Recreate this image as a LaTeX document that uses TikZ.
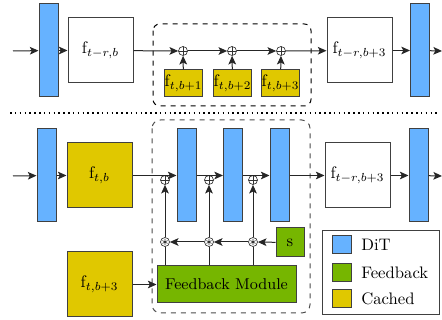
\documentclass[tikz,border=0pt]{standalone}
\usetikzlibrary{arrows.meta,positioning,calc}

\definecolor{ditBlue}{RGB}{102,178,255}
\definecolor{fbGreen}{RGB}{118,182,0}
\definecolor{cacheYellow}{RGB}{224,200,0}

\begin{document}
\begin{tikzpicture}[x=0.6pt, y=-0.6pt,
		ditBlock/.style={
				draw=black!75, fill=ditBlue, line width=0.6pt,
				minimum width=11.4pt, minimum height=55.8pt,
				inner sep=0pt
			},
		plainBlock/.style={
				draw=black!75, fill=white, line width=0.6pt,
				minimum width=39pt, minimum height=39pt,
				inner sep=0pt
			},
		cachedBlock/.style={
				draw=black!75, fill=cacheYellow, line width=0.6pt,
				minimum width=39pt, minimum height=39pt,
				inner sep=0pt
			},
		smallCached/.style={
				draw=black!75, fill=cacheYellow, line width=0.6pt,
				minimum width=22.2pt, minimum height=16.2pt,
				inner sep=0pt
			},
		feedbackBlock/.style={
				draw=black!75, fill=fbGreen, line width=0.6pt,
				inner sep=0pt
			},
		swatch/.style={
				draw=black!75, line width=0.6pt, minimum width=11.4pt, minimum height=10.8pt,
				inner sep=0pt
			},
		sumNode/.style={
				circle, draw=black!80, fill=white, minimum size=5.4pt, inner sep=0pt,
				line width=0.4pt,
				path picture={
						\draw[black!80, line width=0.35pt]
						(path picture bounding box.north) -- (path picture bounding box.south)
						(path picture bounding box.west) -- (path picture bounding box.east);
					}
			},
		mulNode/.style={
				circle, draw=black!80, fill=white, minimum size=5.4pt, inner sep=0pt,
				line width=0.4pt,
				path picture={
						\draw[black!80, line width=0.35pt]
						(path picture bounding box.center) ++(90:1.8pt) -- ++(270:3.6pt)
						(path picture bounding box.center) ++(30:1.8pt) -- ++(210:3.6pt)
						(path picture bounding box.center) ++(150:1.8pt) -- ++(330:3.6pt);
					}
			},
		flowarrow/.style={draw=black!85, line width=0.6pt, -{Stealth[length=5.2pt, width=4.6pt, inset=1.2pt]}},
		flowline/.style={draw=black!85, line width=0.6pt}
	]
	\useasboundingbox (0,0) rectangle (442,320);

	% Top row: cached features reused
	\draw[dashed, rounded corners=4pt, line width=0.6pt] (153,24) rectangle (311,106);
	\coordinate (topIn) at (13,51);
	\coordinate (topOut) at (442,51);
	\node[ditBlock] (T1) at (48.5,50.5) {};
	\node[plainBlock] (TA) at (100.5,50.5) {$\mathrm{f}_{t-r,b}$};
	\node[sumNode] (TP1) at (183,51) {};
	\node[sumNode] (TP2) at (232,51) {};
	\node[sumNode] (TP3) at (281,51) {};
	\node[smallCached] (TC1) at (183.5,83.5) {$\mathrm{f}_{t,b+1}$};
	\node[smallCached] (TC2) at (232.5,83.5) {$\mathrm{f}_{t,b+2}$};
	\node[smallCached] (TC3) at (280.5,83.5) {$\mathrm{f}_{t,b+3}$};
	\node[plainBlock] (TB) at (359.5,50.5) {$\mathrm{f}_{t-r,b+3}$};
	\node[ditBlock] (T2) at (420,50.5) {};

	\draw[flowarrow] (topIn) -- (T1);
	\draw[flowarrow] (T1) -- (TA);
	\draw[flowarrow] (TA) -- (TP1);
	\draw[flowarrow] (TP1) -- (TP2);
	\draw[flowarrow] (TP2) -- (TP3);
	\draw[flowarrow] (TP3) -- (TB);
	\draw[flowarrow] (TB) -- (T2);
	\draw[flowarrow] (T2) -- (topOut);
	\foreach \i in {1,2,3} {
			\draw[flowarrow] (TC\i) -- (TP\i);
		}

	% separator
	\draw[dotted, line width=0.9pt] (10,113) -- (440,113);

	% Bottom row: feedback correction
	\draw[dashed, black!70, rounded corners=5pt, line width=0.6pt] (152,120) rectangle (310,313);
	\coordinate (botIn) at (13,176);
	\coordinate (botOut) at (442,176);
	\node[ditBlock] (B1) at (46.5,175.5) {};
	\node[cachedBlock] (BA) at (99.5,175.5) {$\mathrm{f}_{t,b}$};
	\node[ditBlock] (B2) at (186.5,175.5) {};
	\node[ditBlock] (B3) at (233,175.5) {};
	\node[ditBlock] (B4) at (279.5,175.5) {};
	\node[plainBlock] (BB) at (357.5,175.5) {$\mathrm{f}_{t-r,b+3}$};
	\node[ditBlock] (B5) at (418.5,175.5) {};
	\node[sumNode] (BP1) at (165,180) {};
	\node[sumNode] (BP2) at (209,180) {};
	\node[sumNode] (BP3) at (253,180) {};
	\node[mulNode] (BM1) at (165,242) {};
	\node[mulNode] (BM2) at (209,242) {};
	\node[mulNode] (BM3) at (253,242) {};
	\node[feedbackBlock, minimum width=16.8pt, minimum height=17.4pt] (S) at (290,242.5) {s};
	\node[feedbackBlock, minimum width=83.4pt, minimum height=22.2pt] (FM) at (226.5,284.5) {\fontsize{9.4}{11}\selectfont Feedback Module};
	\node[cachedBlock] (BC) at (99.5,284.5) {$\mathrm{f}_{t,b+3}$};

	\draw[flowarrow] (botIn) -- (B1);
	\draw[flowarrow] (B1) -- (BA);
	\draw[flowarrow] (BA) -- (B2);
	\draw[flowarrow] (B2) -- (B3);
	\draw[flowarrow] (B3) -- (B4);
	\draw[flowarrow] (B4) -- (BB);
	\draw[flowarrow] (BB) -- (B5);
	\draw[flowarrow] (B5) -- (botOut);
	\foreach \i in {1,2,3} {
			\draw[flowline] (FM.north -| BM\i) -- (BM\i);
			\draw[flowarrow] (BM\i) -- (BP\i);
		}
	\draw[flowarrow] (S) -- (BM3);
	\draw[flowarrow] (BM3) -- (BM2);
	\draw[flowarrow] (BM2) -- (BM1);
	\draw[flowarrow] (BC) -- (FM);

	% legend
	\node[draw=black!75, line width=0.6pt, minimum width=70.2pt, minimum height=50.4pt, inner sep=0pt] (legend) at (380.5,273) {};
	\node[swatch, fill=ditBlue] (lgDit) at (341.5,245) {};
	\node[swatch, fill=fbGreen] (lgFb) at (341.5,273) {};
	\node[swatch, fill=cacheYellow] (lgCache) at (341.5,298.5) {};
	\node[anchor=west, inner sep=0pt] (lgDitText) at (361,245) {DiT};
	\node[anchor=west, inner sep=0pt] (lgFbText) at (361,273) {Feedback};
	\node[anchor=west, inner sep=0pt] (lgCacheText) at (361,298.5) {Cached};
\end{tikzpicture}
\end{document}
